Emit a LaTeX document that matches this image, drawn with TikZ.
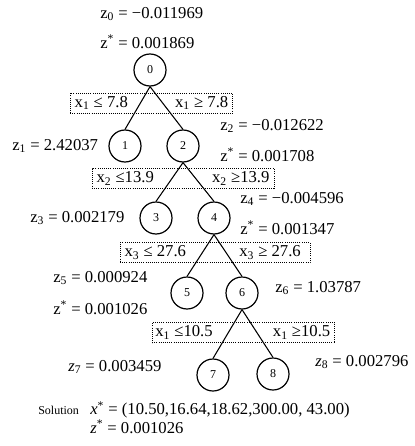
\documentclass[tikz,border=0pt]{standalone}
\usepackage{fontspec}
\setmainfont{Liberation Serif}
\newcommand{\zst}{z\textsuperscript{*}}
\newcommand{\ix}[1]{\textsubscript{#1}}

\begin{document}
\begin{tikzpicture}[x=0.75pt, y=-0.75pt,
        bnode/.style={draw, circle, line width=0.9pt, minimum size=24pt, inner sep=0pt, font=\fontsize{9}{10}\selectfont},
        val/.style={anchor=west, inner sep=0pt, font=\fontsize{12.5}{14}\selectfont},
        cond/.style={inner sep=0pt, font=\fontsize{12.5}{14}\selectfont},
        condbox/.style={draw, densely dotted, line width=0.6pt, inner sep=0pt, minimum height=15pt},
        edge/.style={line width=0.8pt}
    ]
        \useasboundingbox (0,0) rectangle (414,446);
        % tree nodes
        \node[bnode] (n0) at (150,70) {0};
        \node[bnode] (n1) at (125,146) {1};
        \node[bnode] (n2) at (183,146) {2};
        \node[bnode] (n3) at (156,218) {3};
        \node[bnode] (n4) at (214,218) {4};
        \node[bnode] (n5) at (187,293) {5};
        \node[bnode] (n6) at (242,293) {6};
        \node[bnode] (n7) at (213,375) {7};
        \node[bnode] (n8) at (273,374) {8};
        % branching boxes
        \node[condbox, minimum width=122pt] (b0) at (151.5,103) {};
        \node[cond, anchor=west] (b0l) at ([xshift=3.5pt]b0.west) {x\ix{1} ≤ 7.8};
        \node[cond, anchor=east] (b0r) at ([xshift=-3.5pt]b0.east) {x\ix{1} ≥ 7.8};
        \node[condbox, minimum width=136.5pt] (b2) at (183,178.5) {};
        \node[cond, anchor=west] (b2l) at ([xshift=3.5pt]b2.west) {x\ix{2} ≤13.9};
        \node[cond, anchor=east] (b2r) at ([xshift=-3.5pt]b2.east) {x\ix{2} ≥13.9};
        \node[condbox, minimum width=142.5pt] (b4) at (215,252.5) {};
        \node[cond, anchor=west] (b4l) at ([xshift=3.5pt]b4.west) {x\ix{3} ≤ 27.6};
        \node[cond, anchor=east] (b4r) at ([xshift=-7pt]b4.east) {x\ix{3} ≥ 27.6};
        \node[condbox, minimum width=137pt] (b6) at (243.5,332.5) {};
        \node[cond, anchor=west] (b6l) at ([xshift=2.5pt]b6.west) {x\ix{1} ≤10.5};
        \node[cond, anchor=east] (b6r) at ([xshift=-3.5pt]b6.east) {x\ix{1} ≥10.5};
        % branches
        \draw[edge] (n0.south) -- (n1.north);
        \draw[edge] (n0.south) -- (n2.north);
        \draw[edge] (n2.south) -- (n3.north);
        \draw[edge] (n2.south) -- (n4.north);
        \draw[edge] (n4.south) -- (n5.north);
        \draw[edge] (n4.south) -- (n6.north);
        \draw[edge] (n6.south) -- (n7.north);
        \draw[edge] (n6.south) -- (n8.north);
        % values
        \node[val] (z0) at (100,14) {z\ix{0} = −0.011969};
        \node[val] (zs0) at (100,42) {\zst{} = 0.001869};
        \node[val] (z1) at (12,146) {z\ix{1} = 2.42037};
        \node[val] (z2) at (220,126) {z\ix{2} = −0.012622};
        \node[val] (zs2) at (220,155) {\zst{} = 0.001708};
        \node[val] (z3) at (30,218) {z\ix{3} = 0.002179};
        \node[val] (z4) at (240,199) {z\ix{4} = −0.004596};
        \node[val] (zs4) at (240,228) {\zst{} = 0.001347};
        \node[val] (z5) at (53,278) {z\ix{5} = 0.000924};
        \node[val] (zs5) at (53,308) {\zst{} = 0.001026};
        \node[val] (z6) at (275,288) {z\ix{6} = 1.03787};
        \node[val] (z7) at (68,367) {\textit{z}\ix{7} = 0.003459};
        \node[val] (z8) at (315,362) {\textit{z}\ix{8} = 0.002796};
        % solution
        \node[val, font=\fontsize{9}{10}\selectfont] (sol) at (38,410) {Solution};
        \node[val] (xsol) at (90,410) {\textit{x}\textsuperscript{*} = (10.50,16.64,18.62,300.00, 43.00)};
        \node[val] (zsol) at (90,427) {\textit{z}\textsuperscript{*} = 0.001026};
    \end{tikzpicture}
\end{document}
